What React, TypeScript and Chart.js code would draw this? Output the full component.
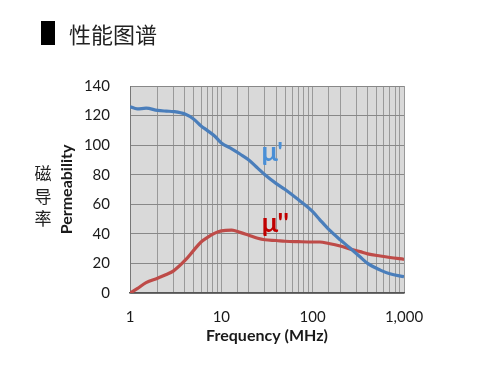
import React, { useEffect, useRef } from "react";
import { Chart, registerables } from "chart.js";

Chart.register(...registerables);

const frequencies = [1, 1.2, 1.5, 2, 2.5, 3, 4, 5, 6, 7, 8.5, 10, 13, 16, 20, 25, 30, 40, 50, 70, 100, 120, 150, 200, 250, 330, 400, 550, 700, 1000];
const muReal = [126, 124.5, 125, 123.5, 123, 122.7, 121, 117.5, 113, 110, 106, 101.5, 97.5, 94, 90, 84.5, 80, 74, 70, 63, 55, 49.5, 43, 36, 31, 24.5, 20, 15.5, 13, 11];
const muImag = [0, 3, 7, 10, 12.5, 15, 22, 29, 34.5, 37.5, 40.5, 42, 42.5, 41, 39, 37, 36, 35.5, 35, 34.7, 34.5, 34.5, 33.5, 31.8, 30, 28, 26.5, 25, 24, 22.8];
const xMajorTicks = [1, 10, 100, 1000];
const xTickLabels = ["1", "10", "100", "1,000"];
const seriesLabels = ["μ'", "μ''"];
const seriesLabelPos = [
  { x: 36, y: 95 },
  { x: 39, y: 47 },
];

const bgPlugin = {
  id: "plotBg",
  beforeDraw(chart: any) {
    const { ctx, chartArea } = chart;
    ctx.save();
    ctx.fillStyle = "#d9d9d9";
    ctx.fillRect(chartArea.left, chartArea.top, chartArea.right - chartArea.left, chartArea.bottom - chartArea.top);
    ctx.restore();
  },
};

const labelPlugin = {
  id: "seriesLabels",
  afterDatasetsDraw(chart: any) {
    const { ctx, scales } = chart;
    const colors = ["#4a8fd6", "#c00000"];
    ctx.save();
    ctx.textAlign = "center";
    ctx.textBaseline = "middle";
    ctx.font = "bold 27px Lato";
    seriesLabels.forEach((t, i) => {
      ctx.fillStyle = colors[i];
      ctx.fillText(t, scales.x.getPixelForValue(seriesLabelPos[i].x), scales.y.getPixelForValue(seriesLabelPos[i].y));
    });
    ctx.restore();
  },
};

export default function App() {
  const ref = useRef<HTMLCanvasElement>(null);
  useEffect(() => {
    if (!ref.current) return;
    const chart = new Chart(ref.current, {
      type: "line",
      data: {
        datasets: [
          {
            label: seriesLabels[0],
            data: frequencies.map((f, i) => ({ x: f, y: muReal[i] })),
            borderColor: "#4a7ebb",
            borderWidth: 3.2,
            pointRadius: 0,
            cubicInterpolationMode: "monotone",
          },
          {
            label: seriesLabels[1],
            data: frequencies.map((f, i) => ({ x: f, y: muImag[i] })),
            borderColor: "#be4b48",
            borderWidth: 3.2,
            pointRadius: 0,
            cubicInterpolationMode: "monotone",
          },
        ],
      },
      options: {
        animation: false,
        responsive: false,
        devicePixelRatio: 1,
        layout: { padding: { top: 86, right: 96, left: 0, bottom: 0 } },
        plugins: { legend: { display: false }, tooltip: { enabled: false } },
        scales: {
          x: {
            type: "logarithmic",
            min: 1,
            max: 1000,
            afterFit(scale: any) {
              scale.height = 79;
            },
            grid: { color: "#999999", lineWidth: 1, drawTicks: false },
            border: { display: true, color: "#555555", width: 1.5 },
            ticks: {
              autoSkip: false,
              maxRotation: 0,
              padding: 15,
              color: "#1a1a1a",
              font: { family: "Lato", size: 15 },
              callback(value: any) {
                const idx = xMajorTicks.indexOf(Number(value));
                return idx >= 0 ? xTickLabels[idx] : "";
              },
            },
            title: {
              display: true,
              text: "Frequency (MHz)",
              color: "#1a1a1a",
              font: { family: "Lato", size: 16, weight: "bold" },
              padding: { top: 0, bottom: 26.5 },
            },
          },
          y: {
            min: 0,
            max: 140,
            afterFit(scale: any) {
              scale.width = 130;
            },
            grid: { color: "#888888", lineWidth: 1, drawTicks: false },
            border: { display: true, color: "#777777", width: 1 },
            ticks: {
              stepSize: 20,
              padding: 20,
              color: "#1a1a1a",
              font: { family: "Lato", size: 15 },
            },
            title: {
              display: true,
              text: "Permeability",
              color: "#1a1a1a",
              font: { family: "Lato", size: 16, weight: "bold" },
              padding: { top: 57.4, bottom: 0 },
            },
          },
        },
      },
      plugins: [bgPlugin, labelPlugin],
    } as any);
    return () => chart.destroy();
  }, []);

  return (
    <div style={{ position: "absolute", left: 0, top: 0, width: 500, height: 372, background: "#ffffff" }}>
      <canvas ref={ref} width={500} height={372} style={{ position: "absolute", left: 0, top: 0, width: 500, height: 372 }} />
      <div style={{ position: "absolute", left: 41, top: 21, width: 14, height: 24, background: "#000" }} />
      <div
        style={{
          position: "absolute",
          left: 69,
          top: 19,
          fontFamily: "'Noto Sans CJK SC'",
          fontSize: 22,
          lineHeight: "28px",
          color: "#222",
          whiteSpace: "nowrap",
        }}
      >
        性能图谱
      </div>
      <div
        style={{
          position: "absolute",
          left: 33,
          top: 162,
          width: 20,
          textAlign: "center",
          fontFamily: "'Noto Sans CJK SC'",
          fontSize: 17,
          lineHeight: "22.5px",
          color: "#222",
        }}
      >
        磁<br />导<br />率
      </div>
    </div>
  );
}
